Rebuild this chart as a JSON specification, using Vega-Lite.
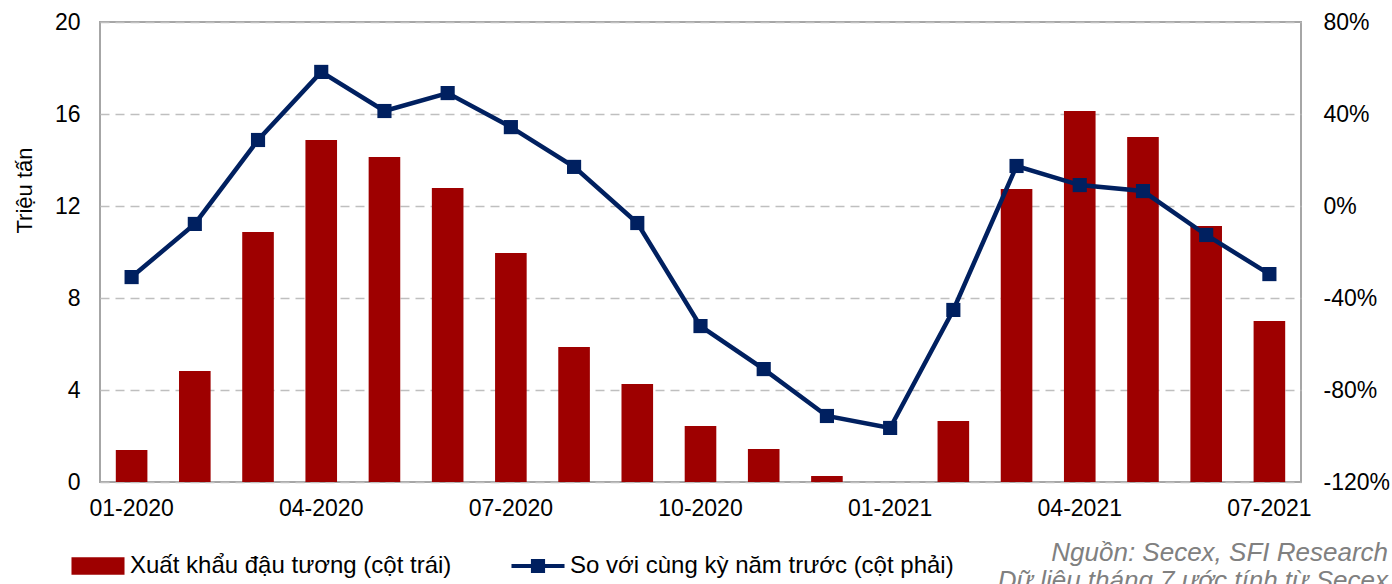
{
  "$schema": "https://vega.github.io/schema/vega-lite/v6.json",
  "autosize": {"type": "none"},
  "width": 1201,
  "height": 460,
  "padding": {"left": 100, "top": 22, "right": 91, "bottom": 102},
  "background": "white",
  "config": {
    "font": "Liberation Sans",
    "view": {"stroke": "#A6A6A6", "strokeWidth": 2},
    "axis": {"labelFont": "Liberation Sans", "titleFont": "Liberation Sans", "labelColor": "#000000", "titleColor": "#000000", "labelFontSize": 23, "titleFontSize": 22, "titleFontWeight": "normal", "domain": false, "ticks": false},
    "legend": {"labelFont": "Liberation Sans", "labelFontSize": 24, "labelColor": "#000000", "padding": 0, "labelLimit": 600}
  },
  "title": {
    "text": ["Nguồn: Secex, SFI Research", "Dữ liệu tháng 7 ước tính từ Secex"],
    "orient": "bottom", "anchor": "end", "frame": "group", "align": "right",
    "dx": 87, "offset": -38, "fontSize": 26, "fontStyle": "italic", "fontWeight": "normal",
    "color": "#808080", "font": "Liberation Sans", "lineHeight": 28
  },
  "data": {"values": [
    {"month": "01-2020", "exports": 1.39, "yoy": -30.9},
    {"month": "02-2020", "exports": 4.83, "yoy": -7.8},
    {"month": "03-2020", "exports": 10.87, "yoy": 28.7},
    {"month": "04-2020", "exports": 14.87, "yoy": 58.3},
    {"month": "05-2020", "exports": 14.13, "yoy": 41.3},
    {"month": "06-2020", "exports": 12.78, "yoy": 49.1},
    {"month": "07-2020", "exports": 9.96, "yoy": 34.3},
    {"month": "08-2020", "exports": 5.87, "yoy": 17.0},
    {"month": "09-2020", "exports": 4.26, "yoy": -7.4},
    {"month": "10-2020", "exports": 2.43, "yoy": -52.2},
    {"month": "11-2020", "exports": 1.43, "yoy": -70.9},
    {"month": "12-2020", "exports": 0.26, "yoy": -91.3},
    {"month": "01-2021", "exports": 0, "yoy": -96.5},
    {"month": "02-2021", "exports": 2.65, "yoy": -45.2},
    {"month": "03-2021", "exports": 12.74, "yoy": 17.4},
    {"month": "04-2021", "exports": 16.13, "yoy": 9.1},
    {"month": "05-2021", "exports": 15.0, "yoy": 6.5},
    {"month": "06-2021", "exports": 11.13, "yoy": -12.6},
    {"month": "07-2021", "exports": 7.0, "yoy": -29.6}
  ]},
  "encoding": {
    "x": {
      "field": "month", "type": "ordinal", "sort": null,
      "scale": {"paddingInner": 0.5, "paddingOuter": 0.25},
      "axis": {"title": null, "labelAngle": 0, "labelPadding": 15, "grid": false,
               "values": ["01-2020", "04-2020", "07-2020", "10-2020", "01-2021", "04-2021", "07-2021"]}
    }
  },
  "layer": [
    {
      "mark": {"type": "bar", "color": "#9E0000"},
      "encoding": {
        "y": {"field": "exports", "type": "quantitative",
              "scale": {"domain": [0, 20], "nice": false},
              "axis": {"title": "Triệu tấn", "values": [0, 4, 8, 12, 16, 20], "grid": true,
                       "gridColor": "#BFBFBF", "gridDash": [9, 6], "gridWidth": 1.5,
                       "labelPadding": 20, "titlePadding": 18, "titleY": 168}},
        "color": {"datum": "Xuất khẩu đậu tương (cột trái)", "type": "nominal",
                  "scale": {"range": ["#9E0000"]},
                  "legend": {"title": null, "orient": "none", "legendX": -20, "legendY": 526,
                             "symbolType": "M-1.5,-0.5H1.5V0.5H-1.5Z", "symbolSize": 1250,
                             "symbolStrokeWidth": 0, "labelOffset": 14}}
      }
    },
    {
      "mark": {"type": "line", "color": "#002060", "strokeWidth": 4.5,
               "point": {"shape": "square", "size": 200, "filled": true, "color": "#002060"}},
      "encoding": {
        "y": {"field": "yoy", "type": "quantitative",
              "scale": {"domain": [-120, 80], "nice": false},
              "axis": {"orient": "right", "title": null, "values": [-120, -80, -40, 0, 40, 80],
                       "labelExpr": "datum.value + '%'", "grid": false, "labelPadding": 22}},
        "color": {"datum": "So với cùng kỳ năm trước (cột phải)", "type": "nominal",
                  "scale": {"range": ["#002060"]},
                  "legend": {"title": null, "orient": "none", "legendX": 420, "legendY": 526,
                             "symbolType": "M-1.5,-0.12H1.5V0.12H-1.5Z M-0.4,-0.4H0.4V0.4H-0.4Z",
                             "symbolSize": 1250, "symbolStrokeWidth": 0, "symbolFillColor": "#002060",
                             "labelOffset": 14}}
      }
    }
  ],
  "resolve": {"scale": {"y": "independent", "color": "independent"}}
}
